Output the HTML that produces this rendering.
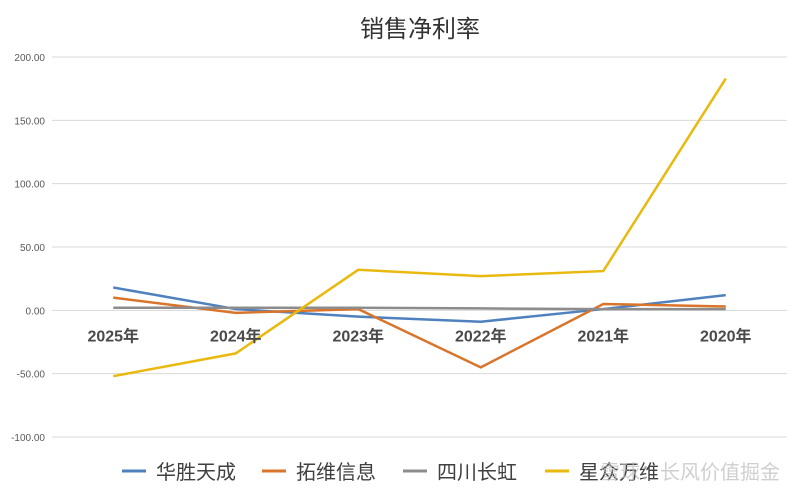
<!DOCTYPE html>
<html><head><meta charset="utf-8"><style>
html,body{margin:0;padding:0;background:#fff;width:800px;height:502px;overflow:hidden}
svg{display:block;font-family:"Liberation Sans","Noto Sans CJK SC",sans-serif}
</style></head><body>
<svg id="c" width="800" height="502">
<text x="420" y="37" text-anchor="middle" font-size="24" fill="#333">销售净利率</text>
<g id="grid"></g><g id="lines"></g><g id="labels"></g><g id="legend"></g>
<text x="600" y="479" font-size="20" fill="#bbb" opacity="0.7">雪球：长风价值掘金</text>
</svg>
<script>
const categories=["2025年","2024年","2023年","2022年","2021年","2020年"];
const yTicks=[200,150,100,50,0,-50,-100];
const seriesNames=["华胜天成","拓维信息","四川长虹","星众万维"];
const seriesColors=["#4e81bd","#d9742b","#8c8c8c","#e9b90f"];
const s1=[18,1,-5,-9,1,12];
const s2=[10,-2,1,-45,5,3];
const s3=[2,2,2,1.5,1,1];
const s4=[-52,-34,32,27,31,183];
const allSeries=[s1,s2,s3,s4];
const NS="http://www.w3.org/2000/svg";
const L=52,R=787,T=57,B=437;
const y=v=>T+(200-v)/300*(B-T);
const x=i=>L+(i+0.5)*(R-L)/categories.length;
const mk=(t,a,p)=>{const e=document.createElementNS(NS,t);for(const k in a)e.setAttribute(k,a[k]);document.getElementById(p).appendChild(e);return e;};
yTicks.forEach(v=>{
 const g=mk("line",{x1:L,x2:R,y1:y(v),y2:y(v),stroke:"#d9d9d9","stroke-width":1},"grid");
 
 
 const t=mk("text",{x:45,y:y(v)+4,"text-anchor":"end","font-size":10,fill:"#595959"},"labels");
 t.textContent=v.toFixed(2);
 
 
});
categories.forEach((c,i)=>{
 const t=mk("text",{x:x(i),y:y(0)+31,"text-anchor":"middle","font-size":16,"font-weight":"bold",fill:"#4a4a4a"},"labels");
 t.textContent=c;
 
 
});
allSeries.forEach((s,k)=>{
 const p=mk("polyline",{points:s.map((v,i)=>x(i)+","+y(v)).join(" "),fill:"none",stroke:seriesColors[k],"stroke-width":2.5},"lines");
 
 
});
const lx=[122,262,403,545];
seriesNames.forEach((n,k)=>{
 const l=mk("line",{x1:lx[k],x2:lx[k]+24,y1:471,y2:471,stroke:seriesColors[k],"stroke-width":3},"legend");
 
 
 const t=mk("text",{x:lx[k]+34,y:479,"font-size":20,fill:"#404040"},"legend");
 t.textContent=n;
 
 
});
</script>
</body></html>
